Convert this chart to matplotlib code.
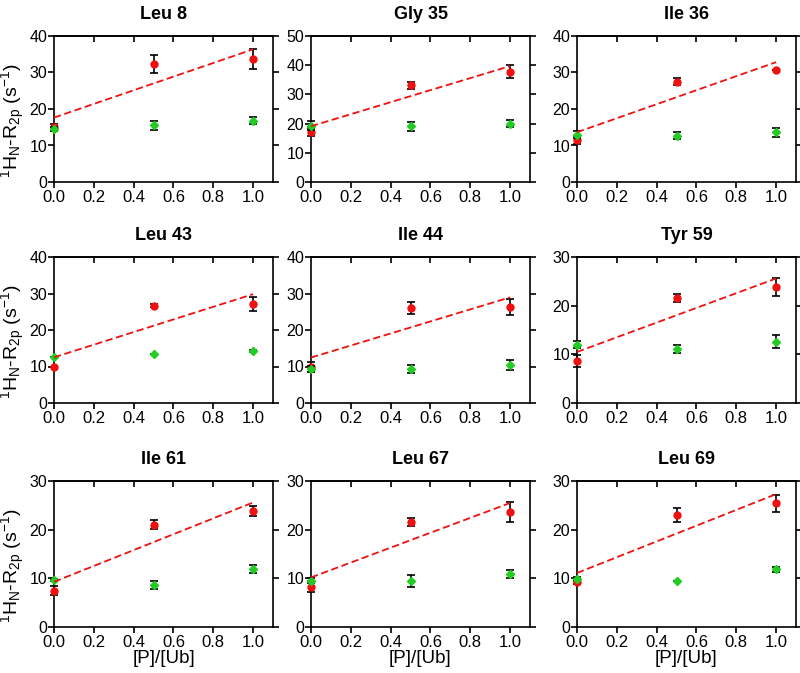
import matplotlib
matplotlib.use('Agg')
import matplotlib.pyplot as plt
import numpy as np

plt.rcParams['font.family'] = ['Liberation Sans', 'DejaVu Sans']
plt.rcParams['mathtext.fontset'] = 'custom'
plt.rcParams['mathtext.rm'] = 'Liberation Sans'
plt.rcParams['mathtext.it'] = 'Liberation Sans:italic'

# [P]/[Ub] ratios
ratio = [0.0, 0.5, 1.0]

# residue names
residues = ['Leu 8', 'Gly 35', 'Ile 36',
            'Leu 43', 'Ile 44', 'Tyr 59',
            'Ile 61', 'Leu 67', 'Leu 69']

# red series (with fit) and its errors
red_vals = [[15.0, 32.3, 33.7],
            [17.2, 33.2, 37.8],
            [11.5, 27.5, 30.7],
            [9.8, 26.6, 27.1],
            [9.8, 26.0, 26.3],
            [8.7, 21.6, 23.8],
            [7.5, 21.0, 23.8],
            [8.3, 21.6, 23.6],
            [9.2, 23.0, 25.4]]
red_err = [[1.0, 2.5, 2.7],
           [1.3, 1.2, 2.3],
           [1.0, 1.0, 0.0],
           [0.0, 0.4, 2.0],
           [1.4, 1.6, 2.2],
           [1.2, 0.9, 1.9],
           [1.0, 0.9, 1.0],
           [1.2, 0.8, 2.0],
           [0.3, 1.5, 1.8]]

# green series and its errors
green_vals = [[14.5, 15.5, 16.8],
              [19.3, 19.1, 19.9],
              [13.0, 12.7, 13.6],
              [12.7, 13.4, 14.2],
              [9.3, 9.2, 10.5],
              [12.0, 11.1, 12.6],
              [9.7, 8.6, 11.9],
              [9.5, 9.4, 10.9],
              [9.9, 9.4, 11.9]]
green_err = [[0.5, 1.2, 1.0],
             [1.5, 1.5, 1.2],
             [1.0, 0.9, 1.2],
             [0.0, 0.0, 0.3],
             [0.8, 1.1, 1.4],
             [0.8, 0.9, 1.3],
             [0.2, 0.8, 0.8],
             [0.5, 1.2, 0.8],
             [0.3, 0.0, 0.5]]

# y axis top for each panel
y_max = [40, 50, 40, 40, 40, 30, 30, 30, 30]

red_color = '#f01010'
green_color = '#22cc22'

fig = plt.figure(figsize=(8, 6.73), dpi=100)

col_left = [54, 311, 577]
row_bottom = [182, 403, 627]
ax_w, ax_h = 219, 146

for i, name in enumerate(residues):
    r, c = divmod(i, 3)
    ax = fig.add_axes([col_left[c] / 800, 1 - row_bottom[r] / 673, ax_w / 800, ax_h / 673])

    # red points with error bars
    ax.errorbar(ratio, red_vals[i], yerr=red_err[i], fmt='o', color=red_color,
                ms=5, ecolor='black', elinewidth=1.2, capsize=3, capthick=1.2,
                clip_on=False, zorder=3)
    # green points
    ax.errorbar(ratio, green_vals[i], yerr=green_err[i], fmt='D', color=green_color,
                ms=4.5, ecolor='black', elinewidth=1.2, capsize=3, capthick=1.2,
                clip_on=False, zorder=4)

    # linear fit of the red series
    k, b = np.polyfit(ratio, red_vals[i], 1)
    xs = np.array([0.0, 1.0])
    ax.plot(xs, k * xs + b, '--', color=red_color, lw=1.3, dashes=(4, 2), zorder=5)

    ax.set_xlim(0, 1.1)
    ax.set_ylim(0, y_max[i])
    ax.set_xticks([0, 0.2, 0.4, 0.6, 0.8, 1.0])
    ax.set_xticklabels(['0.0', '0.2', '0.4', '0.6', '0.8', '1.0'])
    ax.set_yticks(np.arange(0, y_max[i] + 1, 10))

    for s in ax.spines.values():
        s.set_linewidth(1.2)
    ax.tick_params(axis='x', labelsize=12, width=1.2, length=4, direction='out', pad=1.5)
    ax.tick_params(axis='y', labelsize=11.5, width=1.2, length=4, direction='out', pad=1,
                   right=True)

    # inward ticks along the top edge
    top = ax.secondary_xaxis('top')
    top.set_xticks([0.2, 0.4, 0.6, 0.8, 1.0])
    top.tick_params(direction='in', length=4, width=1.2, labeltop=False)
    top.spines['top'].set_linewidth(1.2)

    ax.set_title(name, fontsize=13, fontweight='bold', pad=12)

    if c == 0:
        ax.set_ylabel('$^{1}$H$_{\\mathrm{N}}$-R$_{\\mathrm{2p}}$ (s$^{-1}$)', fontsize=14)
        ax.yaxis.set_label_coords(-0.125, 0.42)
    if r == 2:
        ax.set_xlabel('[P]/[Ub]', fontsize=13.5, labelpad=0)

fig.savefig('out.png', dpi=100)
